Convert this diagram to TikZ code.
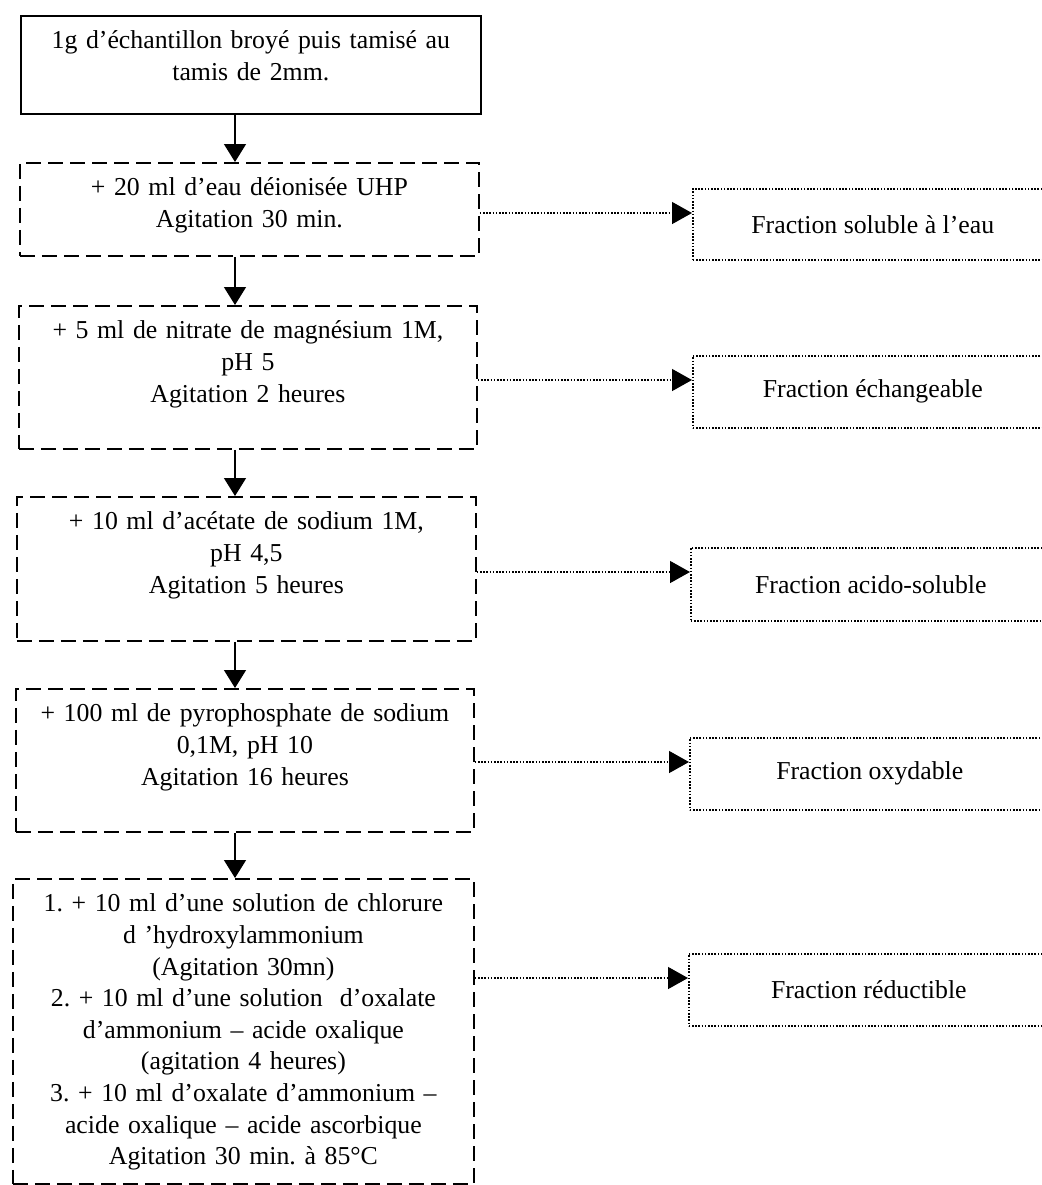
\documentclass[tikz,border=0pt]{standalone}
\usepackage{fontspec}
\setmainfont{Liberation Serif}
\usetikzlibrary{positioning, calc, arrows.meta}
\frenchspacing

\tikzset{
    stepbox/.style={draw, line width=0.9pt, dash pattern=on 7.5pt off 3.5pt, anchor=north west,
        inner xsep=0pt, inner ysep=0pt, align=center, text height=16.5pt},
    firstbox/.style={stepbox, solid, line width=0.8pt},
    fracbox/.style={draw, line width=0.8pt, dash pattern=on 0.8pt off 0.8pt, anchor=north west,
        minimum width=180pt, minimum height=36pt, inner sep=0pt},
    downarrow/.style={line width=0.7pt, -{Triangle[length=9pt, width=11pt]}},
    sidearrow/.style={line width=0.7pt, dash pattern=on 0.8pt off 0.8pt, -{Triangle[length=10pt, width=11pt]}},
}

\begin{document}
\begin{tikzpicture}[x=0.5pt, y=-0.5pt, font=\fontsize{12.9}{15.8}\selectfont]
    \useasboundingbox (0,0) rectangle (1041,1185);

    % extraction steps
    \node[firstbox, text width=230pt, text depth=32.5pt] (b1) at (20,15)
        {1g d’échantillon broyé puis tamisé au\\ tamis de 2mm.};
    \node[stepbox, text width=229.5pt, text depth=30pt] (b2) at (19,162)
        {+ 20 ml d’eau déionisée UHP\\ Agitation 30 min.};
    \node[stepbox, text width=229pt, text depth=55pt] (b3) at (18,305)
        {+ 5 ml de nitrate de magnésium 1M,\\ pH 5\\ Agitation 2 heures};
    \node[stepbox, text width=229.5pt, text depth=55.5pt] (b4) at (16,496)
        {+ 10 ml d’acétate de sodium 1M,\\ pH 4,5\\ Agitation 5 heures};
    \node[stepbox, text width=229pt, text depth=55pt] (b5) at (15,688)
        {+ 100 ml de pyrophosphate de sodium\\ 0,1M, pH 10\\ Agitation 16 heures};
    \node[stepbox, text width=230.5pt, text depth=136pt] (b6) at (12,878)
        {1. + 10 ml d’une solution de chlorure\\ d ’hydroxylammonium\\ (Agitation 30mn)\\
         2. + 10 ml d’une solution\ \ d’oxalate\\ d’ammonium – acide oxalique\\ (agitation 4 heures)\\
         3. + 10 ml d’oxalate d’ammonium –\\ acide oxalique – acide ascorbique\\ Agitation 30 min. à 85°C};

    % fractions
    \node[fracbox, minimum height=35.5pt] (f1) at (692,188) {Fraction soluble à l’eau};
    \node[fracbox] (f2) at (692,355) {Fraction échangeable};
    \node[fracbox, minimum height=36.5pt] (f3) at (690,547) {Fraction acido-soluble};
    \node[fracbox] (f4) at (689,737) {Fraction oxydable};
    \node[fracbox] (f5) at (688,953) {Fraction réductible};

    \coordinate (spine) at (235,0);
    \foreach \a/\b in {b1/b2, b2/b3, b3/b4, b4/b5, b5/b6}
        \draw[downarrow] (\a.south -| spine) -- (\b.north -| spine);

    \foreach \f in {f1, f2, f3, f4, f5}
        \coordinate (\f-in) at ($(\f.north west)+(0,25)$);
    \foreach \s/\f in {b2/f1, b3/f2, b4/f3, b5/f4, b6/f5}
        \draw[sidearrow] (\s.east |- \f-in) -- (\f-in);
\end{tikzpicture}
\end{document}
